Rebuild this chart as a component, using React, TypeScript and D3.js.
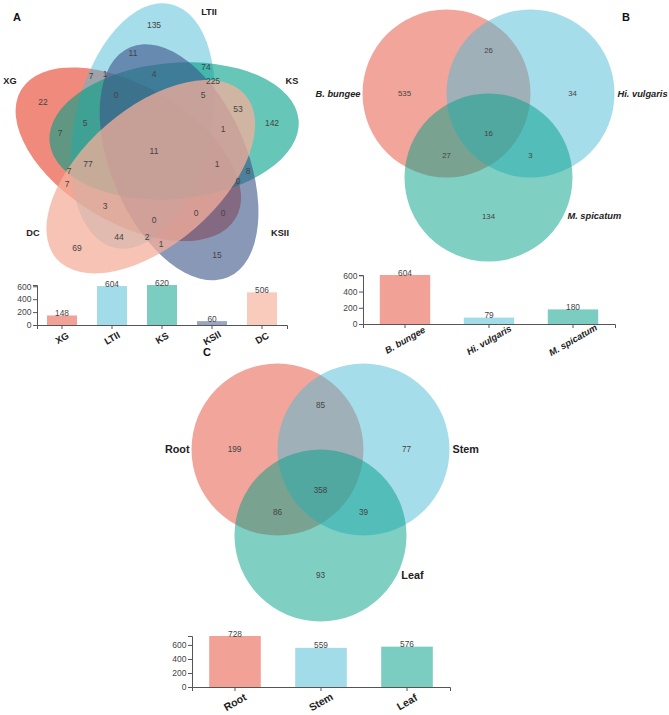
import React, { useEffect, useRef } from "react";
import * as d3 from "d3";

// ---------- DATA ----------
// Panel A (5-set)
const A_SETS = ["XG", "LTII", "KS", "KSII", "DC"];
const A_TOTALS = [148, 604, 620, 60, 506];
const A_COUNTS = [135, 11, 7, 1, 4, 74, 225, 22, 0, 5, 53, 142, 7, 5, 1, 11, 77, 1, 8, 7, 0, 7, 3, 0, 0, 0, 44, 2, 1, 69, 15];

// Panel B (3-set)
const B_SETS = ["B. bungee", "Hi. vulgaris", "M. spicatum"];
const B_TOTALS = [604, 79, 180];
// order: onlyA, AB, onlyB, ABC, AC, BC, onlyC
const B_COUNTS = [535, 26, 34, 16, 27, 3, 134];

// Panel C (3-set)
const C_SETS = ["Root", "Stem", "Leaf"];
const C_TOTALS = [728, 559, 576];
const C_COUNTS = [199, 85, 77, 358, 86, 39, 93];

// ---------- STYLE ----------
const NPG = ["#E64B35", "#4DBBD5", "#00A087", "#3C5488", "#F39B7F"];
const A_VENN_COLORS = ["#E64B35", "#4DBBD5", "#00A087", "#3C5488", "#F4AF9B"];
const A_VENN_ALPHA = [0.65, 0.5, 0.6, 0.6, 0.75];

// ---------- LAYOUT (positions, not data) ----------
const A_COUNT_POS: [number, number][] = [
  [154, 25], [133, 53], [91, 76], [105, 74], [154, 74], [206, 67], [213, 81], [43, 102], [116, 95], [203, 95],
  [238, 109], [272, 123], [60, 133], [85, 123], [223, 129], [154, 151], [88, 164], [217, 164], [248, 171], [69, 171],
  [238, 181], [67, 184], [105, 206], [196, 213], [223, 213], [154, 220], [119, 237], [147, 237], [161, 244], [77, 248], [217, 255],
];
const A_SET_POS: [number, number][] = [[10, 81], [209, 12], [292, 81], [280, 233], [33, 233]];

const FONT = "'Liberation Sans', Arial, Helvetica, sans-serif";

function drawBars(
  g: any,
  cats: string[],
  vals: number[],
  colors: string[],
  o: { x0: number; x1: number; yBottom: number; yTop: number; labelDy: number; labelSize: number; italic: boolean }
) {
  const x = d3.scaleBand().domain(cats).range([o.x0, o.x1]).paddingInner(0.4).paddingOuter(0.2);
  const y = d3.scaleLinear().domain([0, d3.max(vals) as number]).range([o.yBottom, o.yTop]);

  g.selectAll("rect.bar")
    .data(cats)
    .enter()
    .append("rect")
    .attr("x", (d: string) => x(d) as number)
    .attr("width", x.bandwidth())
    .attr("y", (_: string, i: number) => y(vals[i]))
    .attr("height", (_: string, i: number) => o.yBottom - y(vals[i]))
    .attr("fill", (_: string, i: number) => colors[i])
    .attr("fill-opacity", 0.52);

  g.selectAll("text.val")
    .data(cats)
    .enter()
    .append("text")
    .attr("x", (d: string) => (x(d) as number) + x.bandwidth() / 2)
    .attr("y", (_: string, i: number) => y(vals[i]) + 0.5)
    .attr("text-anchor", "middle")
    .attr("font-family", FONT)
    .attr("font-size", 8.3)
    .attr("fill", "#444")
    .text((_: string, i: number) => vals[i]);

  const yAxis = d3.axisLeft(y).ticks(4).tickSize(4).tickSizeOuter(4).tickPadding(1.5);
  const ya = g.append("g").attr("transform", `translate(${o.x0},0)`).call(yAxis);
  const xAxis = d3.axisBottom(x).tickSize(4).tickSizeOuter(4).tickFormat(() => "");
  const xa = g.append("g").attr("transform", `translate(0,${o.yBottom})`).call(xAxis);
  [ya, xa].forEach((a) => {
    a.select(".domain").attr("stroke", "#555").attr("stroke-width", 1);
    a.selectAll(".tick line").attr("stroke", "#555");
    a.selectAll(".tick text").attr("font-family", FONT).attr("font-size", 8.5).attr("fill", "#444");
  });

  g.selectAll("text.cat")
    .data(cats)
    .enter()
    .append("text")
    .attr("transform", (d: string) => {
      const cx = (x(d) as number) + x.bandwidth() / 2;
      const cy = o.yBottom + o.labelDy;
      return `translate(${cx},${cy}) rotate(-30)`;
    })
    .attr("text-anchor", "middle")
    .attr("dy", "0.35em")
    .attr("font-family", FONT)
    .attr("font-weight", "bold")
    .attr("font-style", o.italic ? "italic" : "normal")
    .attr("font-size", o.labelSize)
    .attr("fill", "#222")
    .text((d: string) => d);
}

function drawVenn3(
  g: any,
  cx: number,
  cy: number,
  r: number,
  names: string[],
  counts: number[],
  colors: string[],
  o: { nameSize: number; italic: boolean; countSize: number }
) {
  const centers: [number, number][] = [[cx - r / 2, cy], [cx + r / 2, cy], [cx, cy + r]];
  g.selectAll("circle.set")
    .data(centers)
    .enter()
    .append("circle")
    .attr("cx", (d: number[]) => d[0])
    .attr("cy", (d: number[]) => d[1])
    .attr("r", r)
    .attr("fill", (_: any, i: number) => colors[i])
    .attr("fill-opacity", 0.5);

  const pos: [number, number][] = [
    [cx - r, cy],
    [cx, cy - 0.52 * r],
    [cx + r, cy],
    [cx, cy + 0.47 * r],
    [cx - r / 2, cy + 0.73 * r],
    [cx + r / 2, cy + 0.73 * r],
    [cx, cy + 1.46 * r],
  ];
  g.selectAll("text.cnt")
    .data(counts)
    .enter()
    .append("text")
    .attr("x", (_: any, i: number) => pos[i][0])
    .attr("y", (_: any, i: number) => pos[i][1])
    .attr("dy", "0.35em")
    .attr("text-anchor", "middle")
    .attr("font-family", FONT)
    .attr("font-size", o.countSize)
    .attr("fill", "#444")
    .text((d: number) => d);

  const namePos: [number, number, string][] = [
    [cx - r - r / 2 - 2, cy, "end"],
    [cx + r + r / 2 + 3, cy, "start"],
    [cx + 0.94 * r, cy + 1.46 * r, "start"],
  ];
  g.selectAll("text.name")
    .data(names)
    .enter()
    .append("text")
    .attr("x", (_: any, i: number) => namePos[i][0])
    .attr("y", (_: any, i: number) => namePos[i][1])
    .attr("dy", "0.35em")
    .attr("text-anchor", (_: any, i: number) => namePos[i][2])
    .attr("font-family", FONT)
    .attr("font-weight", "bold")
    .attr("font-style", o.italic ? "italic" : "normal")
    .attr("font-size", o.nameSize)
    .attr("fill", "#222")
    .text((d: string) => d);
}

export default function App() {
  const ref = useRef<SVGSVGElement | null>(null);

  useEffect(() => {
    const svg = d3.select(ref.current);
    svg.selectAll("*").remove();

    // ----- Panel A: 5-set ellipse Venn -----
    const gA = svg.append("g");
    const C = [155, 150];
    const dOff = 27, ra = 125, rb = 68;
    const ell = A_SETS.map((_, k) => {
      const th = ((171 + 72 * k) * Math.PI) / 180;
      const phi = 171 + 72 * k + 40;
      return { cx: C[0] + dOff * Math.cos(th), cy: C[1] + dOff * Math.sin(th), phi };
    });
    gA.selectAll("ellipse")
      .data(ell)
      .enter()
      .append("ellipse")
      .attr("cx", (d: any) => d.cx)
      .attr("cy", (d: any) => d.cy)
      .attr("rx", ra)
      .attr("ry", rb)
      .attr("transform", (d: any) => `rotate(${d.phi},${d.cx},${d.cy})`)
      .attr("fill", (_: any, i: number) => A_VENN_COLORS[i])
      .attr("fill-opacity", (_: any, i: number) => A_VENN_ALPHA[i]);

    gA.selectAll("text.cnt")
      .data(A_COUNTS)
      .enter()
      .append("text")
      .attr("x", (_: any, i: number) => A_COUNT_POS[i][0])
      .attr("y", (_: any, i: number) => A_COUNT_POS[i][1])
      .attr("dy", "0.35em")
      .attr("text-anchor", "middle")
      .attr("font-family", FONT)
      .attr("font-size", 8.5)
      .attr("fill", "#444")
      .text((d: number) => d);

    gA.selectAll("text.name")
      .data(A_SETS)
      .enter()
      .append("text")
      .attr("x", (_: any, i: number) => A_SET_POS[i][0])
      .attr("y", (_: any, i: number) => A_SET_POS[i][1])
      .attr("dy", "0.35em")
      .attr("text-anchor", "middle")
      .attr("font-family", FONT)
      .attr("font-weight", "bold")
      .attr("font-size", 9.2)
      .attr("fill", "#222")
      .text((d: string) => d);

    drawBars(gA, A_SETS, A_TOTALS, NPG, {
      x0: 37, x1: 287, yBottom: 325, yTop: 285, labelDy: 13, labelSize: 9.5, italic: false,
    });

    // ----- Panel B -----
    const gB = svg.append("g");
    drawVenn3(gB, 488.5, 93.5, 84, B_SETS, B_COUNTS, NPG, { nameSize: 9.3, italic: true, countSize: 7.8 });
    drawBars(gB, B_SETS, B_TOTALS, NPG, {
      x0: 363, x1: 615, yBottom: 324, yTop: 275, labelDy: 16, labelSize: 9.3, italic: true,
    });

    // ----- Panel C -----
    const gC = svg.append("g");
    drawVenn3(gC, 320.5, 449.5, 86, C_SETS, C_COUNTS, NPG, { nameSize: 10.8, italic: false, countSize: 8.2 });
    drawBars(gC, C_SETS, C_TOTALS, NPG, {
      x0: 192, x1: 450, yBottom: 687, yTop: 636, labelDy: 15, labelSize: 10.5, italic: false,
    });

    // ----- Panel letters -----
    const letters: [string, number, number][] = [["A", 17, 17], ["B", 626, 17], ["C", 207, 352]];
    svg.selectAll("text.letter")
      .data(letters)
      .enter()
      .append("text")
      .attr("x", (d: any) => d[1])
      .attr("y", (d: any) => d[2])
      .attr("dy", "0.35em")
      .attr("text-anchor", "middle")
      .attr("font-family", FONT)
      .attr("font-weight", "bold")
      .attr("font-size", 11)
      .attr("fill", "#111")
      .text((d: any) => d[0]);
  }, []);

  return (
    <svg
      ref={ref}
      width={669}
      height={715}
      style={{ position: "absolute", left: 0, top: 0, background: "#fff" }}
    />
  );
}
